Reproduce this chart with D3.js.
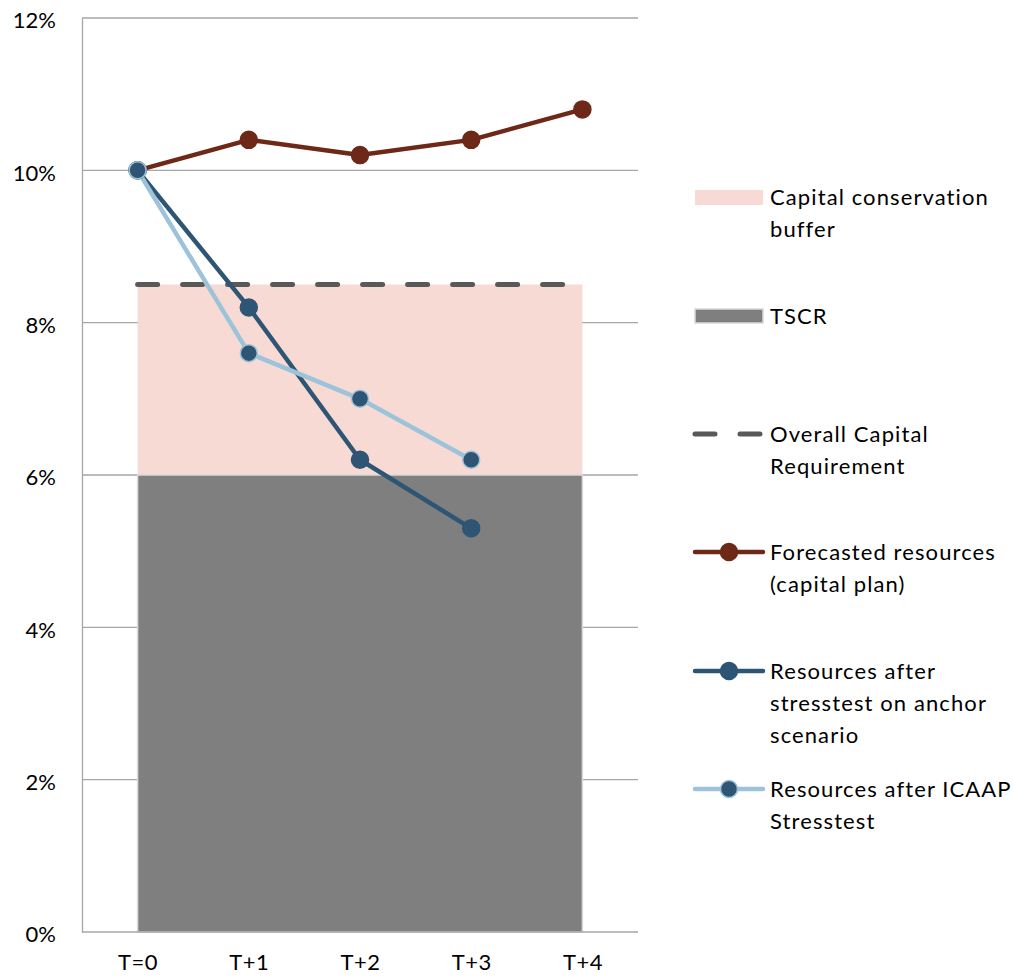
<!DOCTYPE html>
<html><head><meta charset="utf-8">
<script src="https://cdn.jsdelivr.net/npm/d3@7"></script>
<style>body{margin:0;background:#fff;} text{font-family:Lato,"Open Sans",sans-serif;fill:#000;}</style>
</head><body><svg id="c" width="1013" height="977"></svg>
<script>
const categories = ["T=0","T+1","T+2","T+3","T+4"];
const tscr = [6,6,6,6,6];
const buffer = [2.5,2.5,2.5,2.5,2.5];
const ocr = [8.5,8.5,8.5,8.5,8.5];
const forecast = [10,10.4,10.2,10.4,10.8];
const anchor = [10,8.2,6.2,5.3];
const icaap = [10,7.6,7.0,6.2];
const yTicks = [0,2,4,6,8,10,12];

const svg = d3.select("#c");
const L=82,R=638,T=18,B=932;
const x = d3.scalePoint().domain(categories).range([L,R]).padding(0.5);
const y = d3.scaleLinear().domain([0,12]).range([B,T]);

// gridlines
svg.append("g").selectAll("line").data(yTicks.filter(d=>d>0)).join("line")
  .attr("x1",L).attr("x2",R).attr("y1",d=>y(d)).attr("y2",d=>y(d))
  .attr("stroke","#a6a6a6").attr("stroke-width",1.3);

// stacked areas
const stackData = categories.map((c,i)=>({c, tscr:tscr[i], buffer:buffer[i]}));
const stack = d3.stack().keys(["tscr","buffer"])(stackData);
const area = d3.area().x(d=>x(d.data.c)).y0(d=>y(d[0])).y1(d=>y(d[1]));
svg.append("path").datum(stack[1]).attr("d",area).attr("fill","#f7dad4");
svg.append("path").datum(stack[0]).attr("d",area).attr("fill","#7f7f7f").attr("stroke","#d9d9d9").attr("stroke-width",1.5);

// axes
const yAxis = d3.axisLeft(y).tickValues(yTicks).tickFormat(d=>d+"%").tickSize(0).tickPadding(26);
const gy = svg.append("g").attr("transform",`translate(${L},0)`).call(yAxis);
gy.select(".domain").attr("stroke","#a6a6a6").attr("stroke-width",1.3);
gy.selectAll("text").attr("font-size",22).attr("font-family","Lato, sans-serif").attr("fill","#000").attr("dy","0.45em");
const xAxis = d3.axisBottom(x).tickSize(0).tickPadding(22);
const gx = svg.append("g").attr("transform",`translate(0,${B})`).call(xAxis);
gx.select(".domain").attr("stroke","#a6a6a6").attr("stroke-width",1.3).attr("d",`M${L},0H${R}`);
gx.selectAll("text").attr("font-size",22).attr("font-family","Lato, sans-serif").attr("fill","#000").attr("letter-spacing","0.5px");

// OCR dashed
const line = d3.line().x((d,i)=>x(categories[i])).y(d=>y(d));
svg.append("path").datum(ocr).attr("d",line).attr("fill","none").attr("stroke","#595959")
  .attr("stroke-width",5).attr("stroke-dasharray","20 25").attr("stroke-linecap","round");

const series = [
  {v:forecast, line:"#6e2817", mk:"#6e2817", ms:"#6e2817"},
  {v:anchor, line:"#2e5574", mk:"#2e5574", ms:"#2e5574"},
  {v:icaap, line:"#9dc3da", mk:"#2e5574", ms:"#9dc3da"}
];
series.forEach(s=>{
  svg.append("path").datum(s.v).attr("d",line).attr("fill","none").attr("stroke",s.line).attr("stroke-width",4.5).attr("stroke-linejoin","round");
});
series.forEach(s=>{
  svg.append("g").selectAll("circle").data(s.v).join("circle")
    .attr("cx",(d,i)=>x(categories[i])).attr("cy",d=>y(d)).attr("r",8.5)
    .attr("fill",s.mk).attr("stroke",s.ms).attr("stroke-width",1.5);
});

// legend
const lg = svg.append("g");
const lx0=695, lx1=763, tx=770;
function txt(lines,yc){
  lines.forEach((t,i)=>lg.append("text").attr("x",tx).attr("y",yc+i*32).attr("dy","0.35em")
    .attr("font-size",22).attr("letter-spacing","1.1px").text(t));
}
lg.append("rect").attr("x",lx0).attr("y",190).attr("width",lx1-lx0).attr("height",15).attr("fill","#f7dad4");
txt(["Capital conservation","buffer"],197);
lg.append("rect").attr("x",lx0).attr("y",309).attr("width",lx1-lx0).attr("height",14).attr("fill","#7f7f7f").attr("stroke","#d9d9d9").attr("stroke-width",1.5);
txt(["TSCR"],316);
lg.append("line").attr("x1",695).attr("x2",763).attr("y1",434).attr("y2",434).attr("stroke","#595959").attr("stroke-width",5).attr("stroke-linecap","round").attr("stroke-dasharray","20 25");
txt(["Overall Capital","Requirement"],434);
const ls=[[552,series[0],["Forecasted resources","(capital plan)"]],[671,series[1],["Resources after","stresstest on anchor","scenario"]],[789,series[2],["Resources after ICAAP","Stresstest"]]];
ls.forEach(([yy,s,t])=>{
  lg.append("line").attr("x1",695).attr("x2",763).attr("y1",yy).attr("y2",yy).attr("stroke",s.line).attr("stroke-width",4.5).attr("stroke-linecap","round");
  lg.append("circle").attr("cx",729).attr("cy",yy).attr("r",8.5).attr("fill",s.mk).attr("stroke",s.ms).attr("stroke-width",1.5);
  txt(t,yy);
});
</script></body></html>
